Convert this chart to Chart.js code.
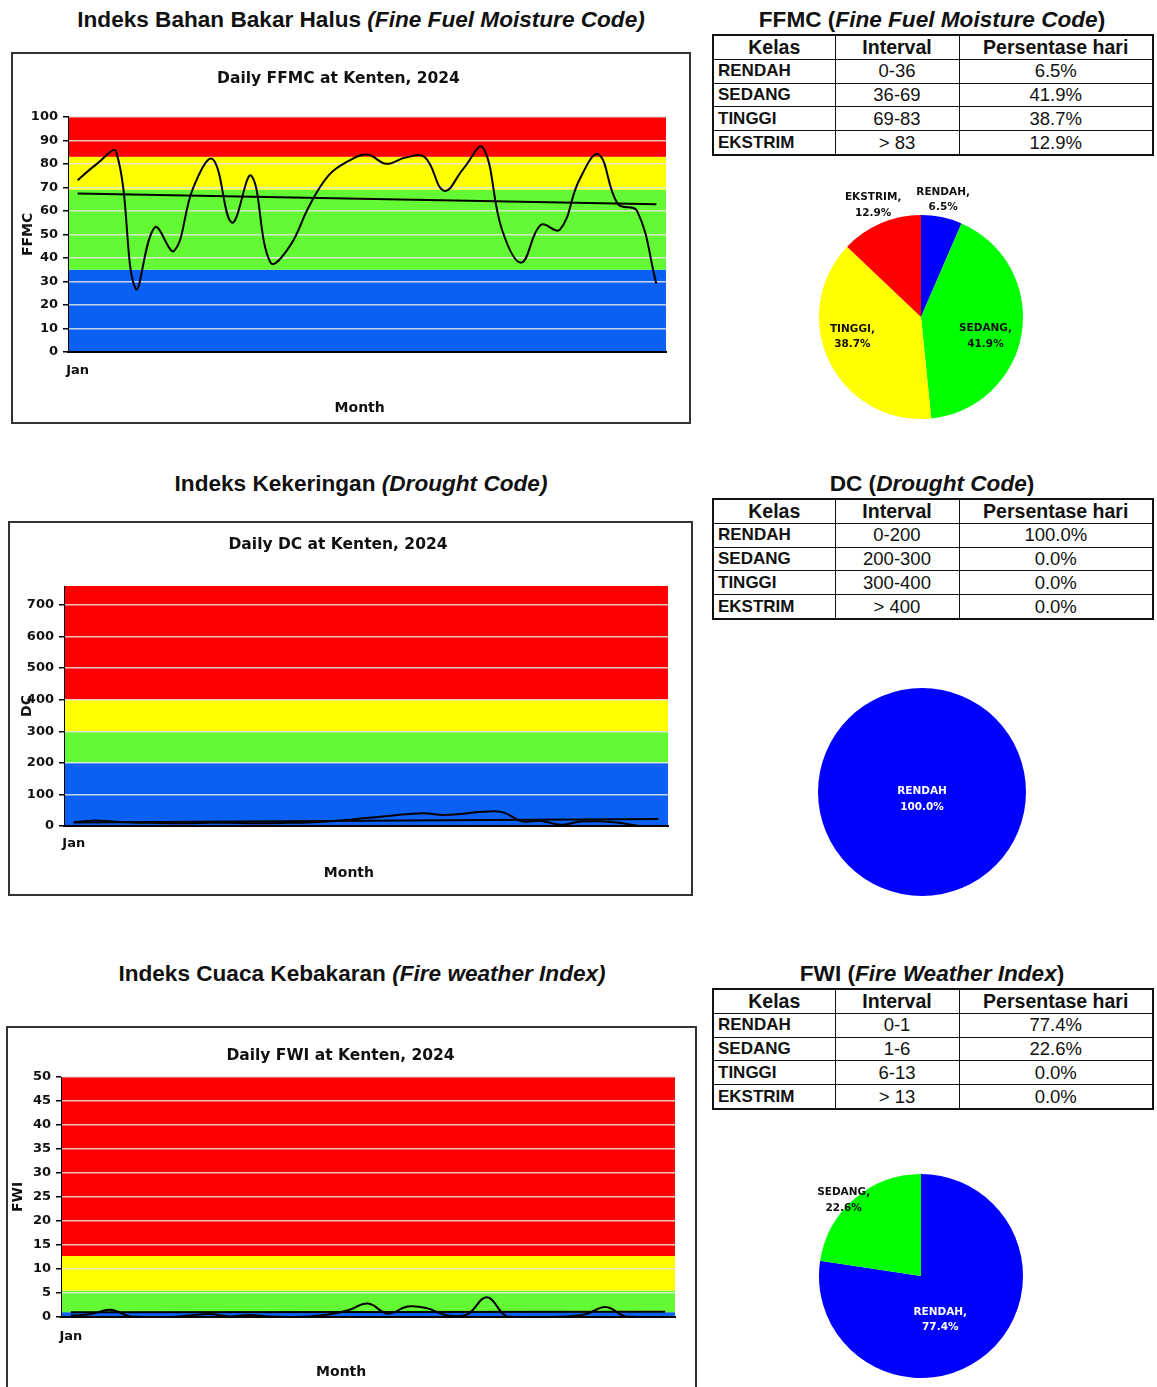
<!DOCTYPE html>
<html>
<head>
<meta charset="utf-8">
<script src="https://cdn.jsdelivr.net/npm/chart.js@4.4.1/dist/chart.umd.min.js"></script>
<style>
  html, body { margin: 0; padding: 0; background: #fff; width: 1157px; height: 1387px; overflow: hidden;
    font-family: 'Liberation Sans', Arial, sans-serif; color: #111; }
  .sec { position: absolute; font-weight: bold; font-size: 22.6px; white-space: nowrap; transform: translate(-50%, -50%); }
  .box { position: absolute; border: 2px solid #333; box-sizing: border-box; pointer-events: none; }
  canvas { position: absolute; }
  table.cls { position: absolute; border-collapse: collapse; table-layout: fixed; width: 440px; height: 122px;
    font-size: 18.5px; border: 2px solid #111; }
  table.cls th, table.cls td { border: 1px solid #111; padding: 0 4px; line-height: 20px; text-align: center; white-space: nowrap; }
  table.cls th { font-size: 19.5px; }
  table.cls td.k { text-align: left; font-weight: bold; font-size: 17px; }
</style>
</head>
<body>
<div class="sec" style="left:361px;top:20px">Indeks Bahan Bakar Halus <i>(Fine Fuel Moisture Code)</i></div>
<div class="sec" style="left:932px;top:20px">FFMC (<i>Fine Fuel Moisture Code</i>)</div>
<div class="sec" style="left:361px;top:484px">Indeks Kekeringan <i>(Drought Code)</i></div>
<div class="sec" style="left:932px;top:484px">DC (<i>Drought Code</i>)</div>
<div class="sec" style="left:362px;top:974px">Indeks Cuaca Kebakaran <i>(Fire weather Index)</i></div>
<div class="sec" style="left:932px;top:974px">FWI (<i>Fire Weather Index</i>)</div>

<script>
// ---- daily series, January 2024, Kenten ----
const days = ['1','2','3','4','5','6','7','8','9','10','11','12','13','14','15','16',
              '17','18','19','20','21','22','23','24','25','26','27','28','29','30','31'];
const monthTicks = ['Jan'];

const ffmcDaily = [73, 80, 85, 27, 53, 43, 70, 82, 55, 75, 38, 45, 62, 75, 81, 84,
                   80, 82.7, 82.8, 68.5, 78, 87, 52, 38, 54, 52, 73, 84, 63, 60, 29];
const ffmcTrend = [67.4, 62.8];

const dcDaily = [12, 17, 14, 11, 10, 9, 9, 10, 10, 9, 9, 10, 11, 14, 19, 25,
                 31, 37, 40, 35, 39, 45, 44, 15, 16, 4, 14, 15, 10, 1, 0];
const dcTrend = [11, 22];

const fwiDaily = [0.3, 0.6, 1.5, 0.1, 0, 0, 0.3, 0.6, 0.1, 0.4, 0.1, 0, 0.1, 0.5, 1.4, 2.8,
                  0.7, 2.2, 1.8, 0.3, 0.5, 4.1, 0.1, 0, 0, 0.1, 0.6, 2.1, 0.1, 0, 0];
const fwiTrend = [1.0, 1.1];

// ---- danger classes ----
const classNames = ['RENDAH', 'SEDANG', 'TINGGI', 'EKSTRIM'];
const ffmcIntervals = ['0-36', '36-69', '69-83', '> 83'];
const ffmcShare = [6.5, 41.9, 38.7, 12.9];
const dcIntervals = ['0-200', '200-300', '300-400', '> 400'];
const dcShare = [100.0, 0.0, 0.0, 0.0];
const fwiIntervals = ['0-1', '1-6', '6-13', '> 13'];
const fwiShare = [77.4, 22.6, 0.0, 0.0];

// upper edge of each coloured class band on the value axis
const ffmcBandTops = [35, 69, 83, 100];
const dcBandTops = [200, 300, 400, 760];
const fwiBandTops = [1, 5.5, 12.7, 50];

const FONT = "'DejaVu Sans', Verdana, sans-serif";
const bandColors = ['#0a60f2', '#64f935', '#ffff00', '#ff0000'];
const pieColors = ['#0000ff', '#00ff00', '#ffff00', '#ff0000'];

// coloured class bands behind the grid
const bandPlugin = {
  id: 'bands',
  beforeDraw(chart, args, opts) {
    const { ctx, chartArea: a, scales: { y } } = chart;
    let lo = y.min;
    ctx.save();
    opts.tops.forEach((hi, k) => {
      const yt = y.getPixelForValue(hi), yb = y.getPixelForValue(lo);
      ctx.fillStyle = opts.colors[k];
      ctx.fillRect(a.left, yt, a.right - a.left, yb - yt);
      lo = hi;
    });
    ctx.restore();
  }
};

// "CLASS,\nxx.x%" labels on pie slices
const sliceLabelPlugin = {
  id: 'sliceLabels',
  afterDatasetsDraw(chart, args, opts) {
    const { ctx } = chart;
    const vals = chart.data.datasets[0].data;
    ctx.save();
    ctx.font = 'bold 10.5px ' + FONT;
    ctx.textAlign = 'center';
    ctx.textBaseline = 'middle';
    chart.getDatasetMeta(0).data.forEach((arc, i) => {
      const v = vals[i];
      if (!v) return;
      const p = opts.place[i];
      const { x, y, startAngle, endAngle, outerRadius } =
        arc.getProps(['x', 'y', 'startAngle', 'endAngle', 'outerRadius'], true);
      const ang = (startAngle + endAngle) / 2 + p[1] * Math.PI / 180;
      const r = outerRadius * p[0];
      const px = x + r * Math.cos(ang), py = y + r * Math.sin(ang);
      ctx.fillStyle = opts.colors[i];
      const lines = [chart.data.labels[i] + opts.sep, v.toFixed(1) + '%'];
      lines.forEach((t, k) => ctx.fillText(t, px, py + (k - 0.5) * 15.5));
    });
    ctx.restore();
  }
};

function addCanvas(x, y, w, h) {
  const cv = document.createElement('canvas');
  cv.width = w; cv.height = h;
  cv.style.left = x + 'px'; cv.style.top = y + 'px';
  cv.style.width = w + 'px'; cv.style.height = h + 'px';
  document.body.appendChild(cv);
  return cv;
}

function lineChart(o) {
  const cv = addCanvas(o.x, o.y, o.w, o.h);
  const frame = document.createElement('div');
  frame.className = 'box';
  frame.style.cssText = `left:${o.x}px;top:${o.y}px;width:${o.w}px;height:${o.h}px`;
  document.body.appendChild(frame);
  const tickFont = { family: FONT, size: 13, weight: 'bold' };
  new Chart(cv, {
    type: 'line',
    data: {
      labels: days,
      datasets: [
        { data: o.values, borderColor: '#000', borderWidth: 2, tension: 0.4, pointRadius: 0, fill: false },
        { data: [{ x: days[0], y: o.trend[0] }, { x: days[days.length - 1], y: o.trend[1] }],
          borderColor: '#000', borderWidth: 2, tension: 0, pointRadius: 0, fill: false }
      ]
    },
    options: {
      responsive: false, animation: false, devicePixelRatio: 1,
      layout: { padding: { left: 0, right: o.padRight, top: 0, bottom: 0 } },
      plugins: {
        legend: { display: false }, tooltip: { enabled: false },
        title: { display: true, text: o.title, color: '#111',
                 font: { family: FONT, size: 15.5, weight: 'bold' }, lineHeight: 1.2,
                 padding: { top: o.titleTop, bottom: o.titleBottom } },
        bands: { tops: o.bandTops, colors: bandColors }
      },
      scales: {
        x: {
          type: 'category', offset: true,
          grid: { display: false },
          border: { color: '#000', width: 2 },
          ticks: { autoSkip: false, maxRotation: 0, padding: o.janPad, color: '#111', font: tickFont,
                   callback: (v, i) => (i === 0 ? monthTicks[0] : '') },
          // trailing no-break spaces nudge the centred axis title to the left
          title: { display: true, text: 'Month' + '\u00a0'.repeat(o.monthNudge), color: '#111',
                   font: { family: FONT, size: 14, weight: 'bold' },
                   padding: { top: 0, bottom: o.monthPad } },
          afterFit: s => { s.height = o.xHeight; }
        },
        y: {
          min: 0, max: o.max,
          ticks: { stepSize: o.step, includeBounds: false, padding: 5, color: '#111', font: tickFont },
          grid: { color: 'rgba(232,232,232,0.85)', lineWidth: 1.5, tickColor: '#000', tickLength: 5 },
          border: { color: '#000', width: 1 },
          title: { display: true, text: o.yLabel, color: '#111', font: { family: FONT, size: 14, weight: 'bold' },
                   padding: { top: o.yLabPad, bottom: 0 } },
          afterFit: s => { s.width = o.yWidth; }
        }
      }
    },
    plugins: [bandPlugin]
  });
}

function pieChart(o) {
  const size = 270;
  const cv = addCanvas(o.cx - size / 2, o.cy - size / 2, size, size);
  new Chart(cv, {
    type: 'pie',
    data: { labels: classNames, datasets: [{ data: o.share, backgroundColor: pieColors, borderWidth: 0 }] },
    options: {
      responsive: false, animation: false, devicePixelRatio: 1,
      layout: { padding: size / 2 - o.r },
      plugins: { legend: { display: false }, tooltip: { enabled: false },
                 sliceLabels: { place: o.place, colors: o.textColors, sep: o.sep } }
    },
    plugins: [sliceLabelPlugin]
  });
}

function classTable(x, y, intervals, share) {
  const t = document.createElement('table');
  t.className = 'cls';
  t.style.left = x + 'px'; t.style.top = y + 'px';
  let html = '<colgroup><col style="width:122px"><col style="width:124px"><col style="width:194px"></colgroup>' +
             '<tr><th>Kelas</th><th>Interval</th><th>Persentase hari</th></tr>';
  classNames.forEach((c, i) => {
    html += `<tr><td class="k">${c}</td><td>${intervals[i]}</td><td>${share[i].toFixed(1)}%</td></tr>`;
  });
  t.innerHTML = html;
  document.body.appendChild(t);
}

// title block: centre of the title line and top of the plot, both measured from the frame top
function titlePad(centre, plotTop) {
  const lh = 15.5 * 1.2;
  const top = centre - lh / 2;
  return [top, plotTop - top - lh];
}

// ---- FFMC ----
let tp = titlePad(27.4, 64.8);
lineChart({ x: 11, y: 52, w: 680, h: 372, values: ffmcDaily, trend: ffmcTrend,
  title: 'Daily FFMC at Kenten, 2024', titleTop: tp[0], titleBottom: tp[1],
  padRight: 25, yWidth: 57, xHeight: 72, janPad: 3, monthPad: 7, monthNudge: 3, yLabPad: 9,
  max: 100, step: 10, yLabel: 'FFMC', bandTops: ffmcBandTops });
classTable(712, 34, ffmcIntervals, ffmcShare);
pieChart({ cx: 921, cy: 317, r: 102, share: ffmcShare, sep: ',',
  place: [[1.17, -1], [0.66, 8], [0.70, 10], [1.19, 0]],
  textColors: ['#111', '#111', '#111', '#111'] });

// ---- DC ----
tp = titlePad(24, 65);
lineChart({ x: 8, y: 521, w: 685, h: 375, values: dcDaily, trend: dcTrend,
  title: 'Daily DC at Kenten, 2024', titleTop: tp[0], titleBottom: tp[1],
  padRight: 25, yWidth: 56, xHeight: 70, janPad: 2, monthPad: 14, monthNudge: 7, yLabPad: 11,
  max: 760, step: 100, yLabel: 'DC', bandTops: dcBandTops });
classTable(712, 498, dcIntervals, dcShare);
pieChart({ cx: 922, cy: 792, r: 104, share: dcShare, sep: '',
  place: [[0.07, 0], [0, 0], [0, 0], [0, 0]],
  textColors: ['#fff', '#111', '#111', '#111'] });

// ---- FWI ----
tp = titlePad(30, 51);
lineChart({ x: 6, y: 1026, w: 691, h: 372, values: fwiDaily, trend: fwiTrend,
  title: 'Daily FWI at Kenten, 2024', titleTop: tp[0], titleBottom: tp[1],
  padRight: 22, yWidth: 55, xHeight: 81, janPad: 4, monthPad: 17, monthNudge: 11, yLabPad: 4,
  max: 50, step: 5, yLabel: 'FWI', bandTops: fwiBandTops });
classTable(712, 988, fwiIntervals, fwiShare);
pieChart({ cx: 921, cy: 1276, r: 102, share: fwiShare, sep: ',',
  place: [[0.47, 17], [1.06, -5], [0, 0], [0, 0]],
  textColors: ['#fff', '#111', '#111', '#111'] });
</script>
</body>
</html>
